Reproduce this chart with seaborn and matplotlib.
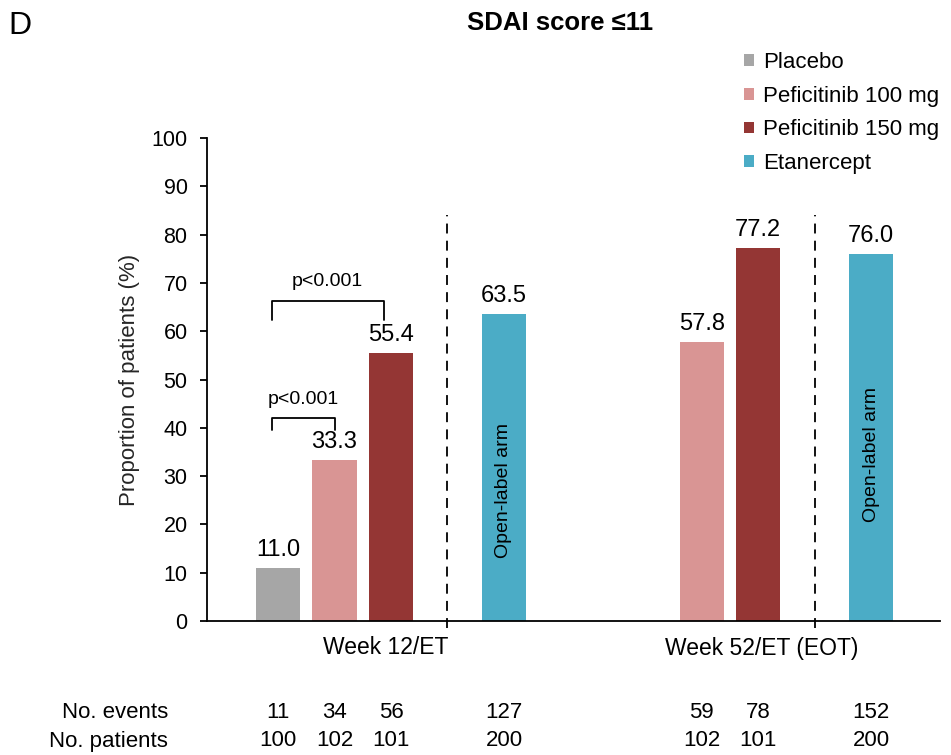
import matplotlib
matplotlib.use("Agg")
import matplotlib.pyplot as plt
import matplotlib.transforms as mtransforms
from matplotlib.patches import Patch
import pandas as pd
import seaborn as sns

# ---- data ----
arms = ["Placebo", "Peficitinib 100 mg", "Peficitinib 150 mg", "Etanercept"]
colors = ["#A6A6A6", "#D99594", "#943634", "#4BACC6"]

timepoints = ["Week 12/ET", "Week 52/ET (EOT)"]
wk12_arms = ["Placebo", "Peficitinib 100 mg", "Peficitinib 150 mg", "Etanercept"]
wk12_values = [11.0, 33.3, 55.4, 63.5]
wk12_events = [11, 34, 56, 127]
wk12_patients = [100, 102, 101, 200]

wk52_arms = ["Peficitinib 100 mg", "Peficitinib 150 mg", "Etanercept"]
wk52_values = [57.8, 77.2, 76.0]
wk52_events = [59, 78, 152]
wk52_patients = [102, 101, 200]

# ---- layout of bar slots on a numeric axis ----
wk12_pos = [0, 1, 2, 4]
wk52_pos = [7.5, 8.5, 10.5]
divider_pos = [3, 9.5]
label_pos = [1.9, 8.57]

df = pd.DataFrame({
    "pos": wk12_pos + wk52_pos,
    "value": wk12_values + wk52_values,
    "arm": wk12_arms + wk52_arms,
    "events": wk12_events + wk52_events,
    "patients": wk12_patients + wk52_patients,
})

sns.set_theme(style="white")
plt.rcParams["font.family"] = ["Liberation Sans", "DejaVu Sans"]
plt.rcParams["text.color"] = "black"

W, H = 951, 755
fig = plt.figure(figsize=(W / 100, H / 100), dpi=100)
ax = fig.add_axes([207 / W, 1 - 621 / H, (940 - 207) / W, (621 - 138) / H])

sns.barplot(data=df, x="pos", y="value", hue="arm", hue_order=arms,
            palette=colors, native_scale=True, dodge=False, width=0.78,
            saturation=1, legend=False, ax=ax, linewidth=0)

ax.set_xlim(-1.257, 11.72)
ax.set_ylim(0, 100)
ax.set_yticks(range(0, 101, 10))
ax.set_xticks([])
ax.set_xlabel("")
ax.set_ylabel("Proportion of patients (%)", fontsize=16, labelpad=8)
ax.tick_params(axis="y", labelsize=15.5, length=5, width=1.3, direction="out",
               left=True, color="black", pad=9, labelcolor="black")
for side in ["top", "right"]:
    ax.spines[side].set_visible(False)
for side in ["left", "bottom"]:
    ax.spines[side].set_color("black")
    ax.spines[side].set_linewidth(1.3)

# value labels on top of each bar
for p, v in zip(df["pos"], df["value"]):
    ax.annotate(f"{v:.1f}", (p, v), xytext=(0, 5), textcoords="offset points",
                ha="center", va="bottom", fontsize=17)

# dashed separators between blinded and open-label arms
for d in divider_pos:
    ax.plot([d, d], [-1.4, 84], color="black", lw=1.3, linestyle=(0, (5.5, 4)),
            clip_on=False)

# open-label arm notes inside the etanercept bars
ax.text(4, 27, "Open-label arm", rotation=90, ha="center", va="center", fontsize=14)
ax.text(10.5, 34.5, "Open-label arm", rotation=90, ha="center", va="center", fontsize=14)


# significance brackets
def bracket(x0, x1, y_bar, y_leg, text, ty, tx):
    ax.plot([x0, x0, x1, x1], [y_leg, y_bar, y_bar, y_leg], color="black", lw=1.3)
    ax.text(tx, ty, text, ha="center", va="center", fontsize=14)


bracket(-0.11, 1.01, 42.1, 39.5, "p<0.001", 45.9, 0.45)
bracket(-0.11, 1.88, 66.3, 62.3, "p<0.001", 70.2, 0.88)

# timepoint labels
trans = mtransforms.blended_transform_factory(ax.transData, fig.transFigure)
for lp, name in zip(label_pos, timepoints):
    ax.text(lp, 1 - 648 / H, name, transform=trans, ha="center", va="center", fontsize=16.5)

# events / patients table under the chart
fig.text(168 / W, 1 - 713 / H, "No. events", ha="right", va="center", fontsize=16)
fig.text(168 / W, 1 - 741 / H, "No. patients", ha="right", va="center", fontsize=16)
for p, e, n in zip(df["pos"], df["events"], df["patients"]):
    ax.text(p, 1 - 713 / H, str(e), transform=trans, ha="center", va="center", fontsize=16)
    ax.text(p, 1 - 741 / H, str(n), transform=trans, ha="center", va="center", fontsize=16)

# title and panel letter
fig.text(560 / W, 1 - 23 / H, "SDAI score ≤11", ha="center", va="center",
         fontsize=18.5, fontweight="bold")
fig.text(8 / W, 1 - 26 / H, "D", ha="left", va="center", fontsize=23)

# legend with small square keys
handles = [Patch(facecolor=c, edgecolor="none", label=a) for a, c in zip(arms, colors)]
fig.legend(handles=handles, loc="upper left", bbox_to_anchor=(744 / W, 1 - 52 / H),
           frameon=False, fontsize=16, handlelength=0.44, handleheight=0.44,
           handletextpad=0.4, labelspacing=0.57, borderpad=0, borderaxespad=0)

fig.savefig("out.png", dpi=100)
